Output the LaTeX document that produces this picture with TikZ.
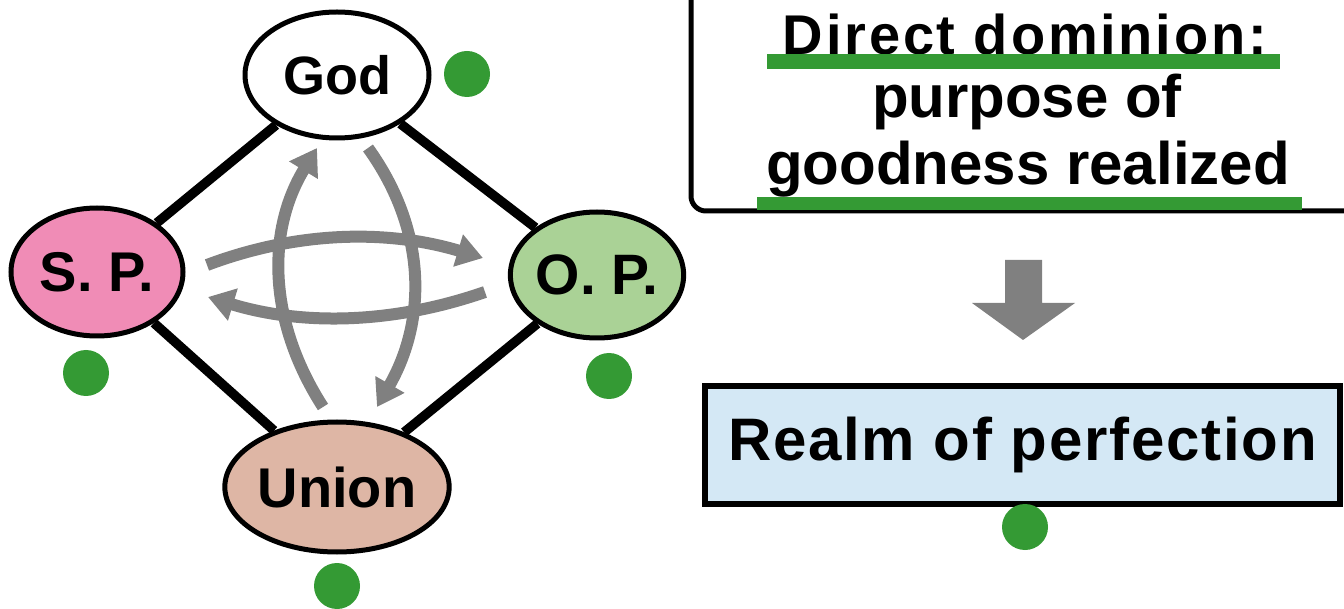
\documentclass[tikz,border=0pt]{standalone}
\usepackage{fontspec}
\setmainfont{Liberation Sans}
\usetikzlibrary{shapes.geometric,arrows.meta}

\definecolor{spink}{RGB}{240,140,182}
\definecolor{opgreen}{RGB}{170,210,150}
\definecolor{unionbrown}{RGB}{222,182,165}
\definecolor{realmblue}{RGB}{212,232,245}
\definecolor{dotgreen}{RGB}{52,154,52}
\definecolor{arrowgray}{RGB}{128,128,128}

\begin{document}
\begin{tikzpicture}[x=1pt,y=-1pt,
  member/.style={ellipse,draw,line width=5pt,inner sep=0pt,font=\bfseries},
  link/.style={line width=9.5pt},
  give/.style={draw=arrowgray,line width=12pt,-{Triangle[width=32pt,length=26pt]}},
  dot/.style={circle,fill=dotgreen,minimum size=46pt,inner sep=0pt}]

\clip (0,0) rectangle (1344,609);

% four position foundation
\node[member,fill=white,minimum width=184pt,minimum height=126pt,font=\bfseries\fontsize{54}{60}\selectfont] (god) at (337,75) {God};
\node[member,fill=spink,minimum width=172pt,minimum height=128pt,font=\bfseries\fontsize{56}{60}\selectfont] (sp) at (97,272) {S. P.};
\node[member,fill=opgreen,minimum width=172pt,minimum height=126pt,font=\bfseries\fontsize{57}{60}\selectfont] (op) at (597,275) {O. P.};
\node[member,fill=unionbrown,minimum width=190pt,minimum height=130pt,font=\bfseries\fontsize{56}{60}\selectfont] (union) at (337,487) {Union};

\draw[link] (god) -- (sp);
\draw[link] (god) -- (op);
\draw[link] (union) -- (sp);
\draw[link] (union) -- (op);

% give and take
\coordinate (upS) at (323,407);   \coordinate (upE) at (317,148);
\coordinate (dnS) at (368,148);   \coordinate (dnE) at (377,407);
\coordinate (rtS) at (207,265);   \coordinate (rtE) at (483,258);
\coordinate (ltS) at (485,292);   \coordinate (ltE) at (208,297);

\draw[give] (upS) .. controls (267,320) and (267,230) .. (upE);
\draw[give] (dnS) .. controls (427,230) and (427,320) .. (dnE);
\draw[give] (rtS) .. controls (300,230) and (390,230) .. (rtE);
\draw[give] (ltS) .. controls (390,325) and (300,325) .. (ltE);

\node[dot] (goddot) at (467,74) {};
\node[dot] (spdot) at (86,373) {};
\node[dot] (opdot) at (609,376) {};
\node[dot] (uniondot) at (337,586) {};

% purpose box
\draw[line width=5pt,rounded corners=15pt] (691,-30) -- (691,211) -- (1380,211);

\node[anchor=base,font=\bfseries\fontsize{56}{60}\selectfont\addfontfeature{LetterSpace=5}] (dominion) at (1025,55) {Direct dominion:};
\node[anchor=base,font=\bfseries\fontsize{60}{66}\selectfont] (purpose) at (1027,118) {purpose of};
\node[anchor=base,font=\bfseries\fontsize{60}{66}\selectfont] (goodness) at (1028,185) {goodness realized};

\fill[dotgreen] (767,54) rectangle (1280,69);
\fill[dotgreen] (757,197) rectangle (1302,210);

\fill[arrowgray] (1005,260) -- (1042,260) -- (1042,303) -- (1075,303) -- (1023,340) -- (972,303) -- (1005,303) -- cycle;

\node[draw,line width=6pt,fill=realmblue,minimum width=635pt,minimum height=118pt,font=\bfseries\fontsize{60}{66}\selectfont\addfontfeature{LetterSpace=3}] (realm) at (1022.5,445) {Realm of perfection};

\node[dot] (realmdot) at (1025,527) {};

\end{tikzpicture}
\end{document}
